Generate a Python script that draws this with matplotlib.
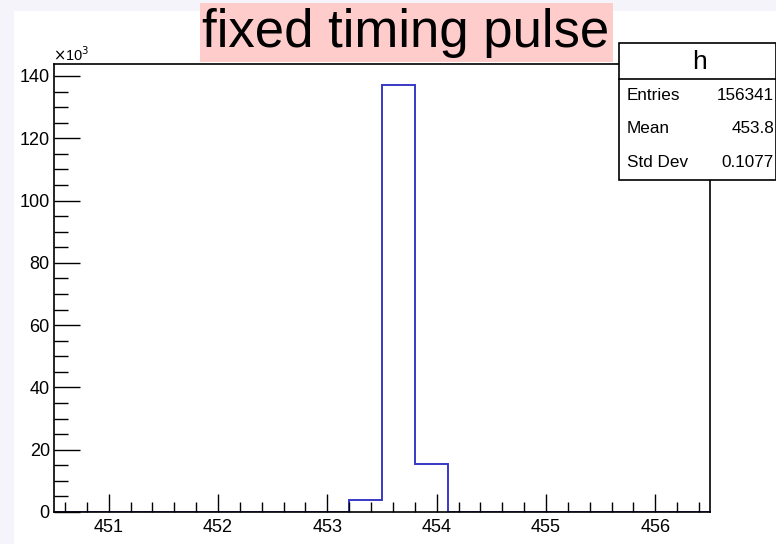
import matplotlib
matplotlib.use("Agg")
import matplotlib.pyplot as plt
from matplotlib.ticker import MultipleLocator, FuncFormatter
from matplotlib.patches import Rectangle
import numpy as np

# ---- data ----
x_min, x_max, n_bins = 450.5, 456.5, 20
counts = [0, 0, 0, 0, 0, 0, 0, 0, 0, 3841, 137000, 15500,
          0, 0, 0, 0, 0, 0, 0, 0]
title_text = "fixed timing pulse"
hist_name = "h"
stat_labels = ["Entries", "Mean", "Std Dev"]
stat_values = ["156341", "453.8", "0.1077"]

plt.rcParams['font.family'] = ['Liberation Sans', 'DejaVu Sans']

W, H = 776, 544
fig = plt.figure(figsize=(W / 100, H / 100), dpi=100)
fig.patch.set_facecolor('#f4f4fa')
# white canvas
fig.patches.append(Rectangle((14 / W, 0), 1 - 14 / W, 1 - 11 / H,
                             transform=fig.transFigure, facecolor='white',
                             edgecolor='none', zorder=-10))

ax = fig.add_axes([54 / W, 32 / H, (710 - 54) / W, (512 - 64) / H])
edges = np.linspace(x_min, x_max, n_bins + 1)
ax.stairs(counts, edges, color='#3838c4', linewidth=1.4, baseline=0)
ax.set_xlim(x_min, x_max)
ax.set_ylim(0, 1.05 * max(counts))

for s in ax.spines.values():
    s.set_linewidth(1.2)
    s.set_color('black')

ax.xaxis.set_major_locator(MultipleLocator(1))
ax.xaxis.set_minor_locator(MultipleLocator(0.2))
ax.yaxis.set_major_locator(MultipleLocator(20000))
ax.yaxis.set_minor_locator(MultipleLocator(5000))
ax.yaxis.set_major_formatter(FuncFormatter(lambda v, p: f"{v/1000:.0f}"))
ax.tick_params(axis='x', which='major', direction='in', length=13, width=1,
               labelsize=13, pad=5)
ax.tick_params(axis='x', which='minor', direction='in', length=7, width=1)
ax.tick_params(axis='y', which='major', direction='in', length=19, width=1,
               labelsize=13, pad=3)
ax.tick_params(axis='y', which='minor', direction='in', length=10, width=1)

fig.text(53 / W, 1 - 55 / H, r"$\times$10$^{3}$", fontsize=10.5,
         ha='left', va='center')

# title box
fig.patches.append(Rectangle((200 / W, 1 - 62 / H), 413 / W, 59 / H,
                             transform=fig.transFigure, facecolor='#ffcccc',
                             edgecolor='none', zorder=-5))
fig.text(406 / W, 1 - 33 / H, title_text, fontsize=38, ha='center',
         va='center')

# stats box
bx0, bx1, by0, by1, hy = 619, 776, 43, 180, 79
fig.patches.append(Rectangle((bx0 / W, 1 - by1 / H), (bx1 - bx0) / W,
                             (by1 - by0) / H, transform=fig.transFigure,
                             facecolor='white', edgecolor='black',
                             linewidth=1.2, zorder=5))
fig.lines.append(plt.Line2D([bx0 / W, bx1 / W], [1 - hy / H, 1 - hy / H],
                            transform=fig.transFigure, color='black',
                            linewidth=1.2, zorder=6))
fig.text(700 / W, 1 - 62 / H, hist_name, fontsize=19,
         ha='center', va='center', zorder=7)
row_y = [96, 129, 163]
for lab, val, yy in zip(stat_labels, stat_values, row_y):
    fig.text(627 / W, 1 - yy / H, lab, fontsize=12.3, ha='left',
             va='center', zorder=7)
    fig.text(774 / W, 1 - yy / H, val, fontsize=12.3, ha='right',
             va='center', zorder=7)

fig.savefig("out.png", dpi=100, facecolor=fig.get_facecolor())
